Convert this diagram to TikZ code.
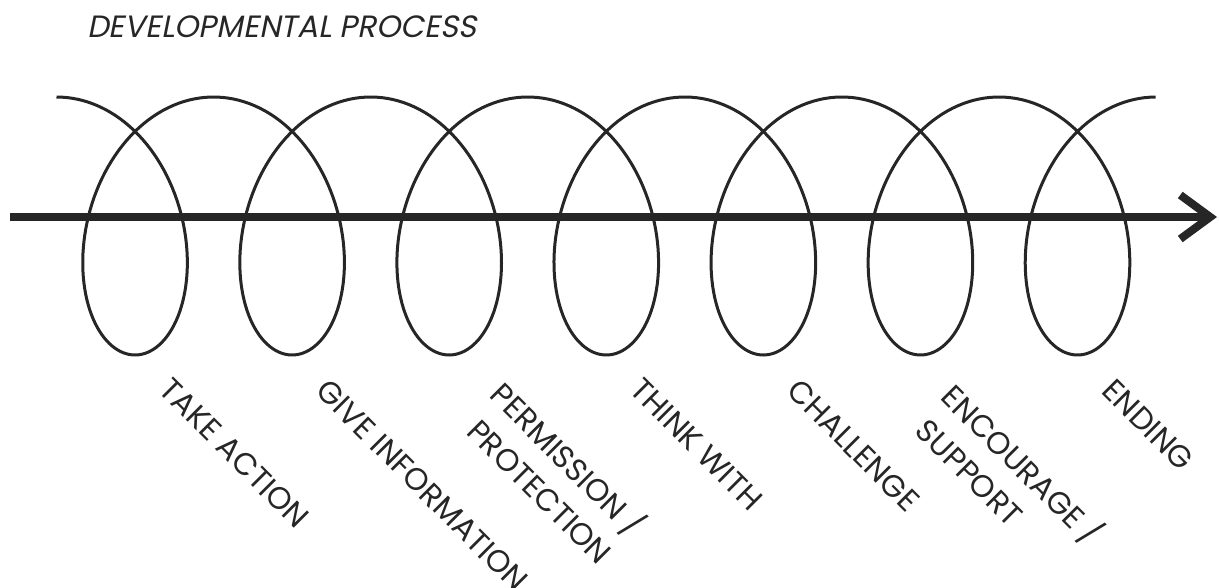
\documentclass[tikz,border=0pt]{standalone}
\usepackage{fontspec}
\setmainfont{Poppins}
\newfontfamily\titlefont[FakeSlant=0.2]{Poppins}
\usetikzlibrary{arrows.meta}

\begin{document}
\begin{tikzpicture}
[x=1pt, y=-1pt, every node/.style={inner sep=0pt},
 coil/.style={line width=3pt, color=black!85},
 timeline/.style={line width=8pt, color=black!85, -{Straight Barb[length=30pt, width=44pt]}},
 stage/.style={rotate=-45, anchor=north west, align=left, color=black!85, font=\fontsize{31}{42}\selectfont}]
\useasboundingbox (0,0) rectangle (1219,587);
\node (title) [anchor=base west, color=black!85, font=\titlefont\fontsize{30.8}{36}\selectfont] at (87,37) {DEVELOPMENTAL PROCESS};
% the spiral
\draw [coil] plot [domain=0:43.982, samples=900, variable=\t] ({56.5+25*\t+88*sin(\t r)}, {226-129*cos(\t r)});
% the line of development
\coordinate (start) at (10,217);
\coordinate (end) at (1217,217);
\draw [timeline] (start) -- (end);
% stages
\node (take) [stage] at (173,376) {TAKE ACTION};
\node (give) [stage] at (330,377) {GIVE INFORMATION};
\node (permission) [stage] at (509,376) {PERMISSION /\\\hspace{9pt}PROTECTION};
\node (think) [stage] at (644,376) {THINK WITH};
\node (challenge) [stage] at (801,377) {CHALLENGE};
\node (encourage) [stage] at (960,378) {ENCOURAGE /\\\hspace{6pt}SUPPORT};
\node (ending) [stage] at (1116,377) {ENDING};
\end{tikzpicture}
\end{document}
